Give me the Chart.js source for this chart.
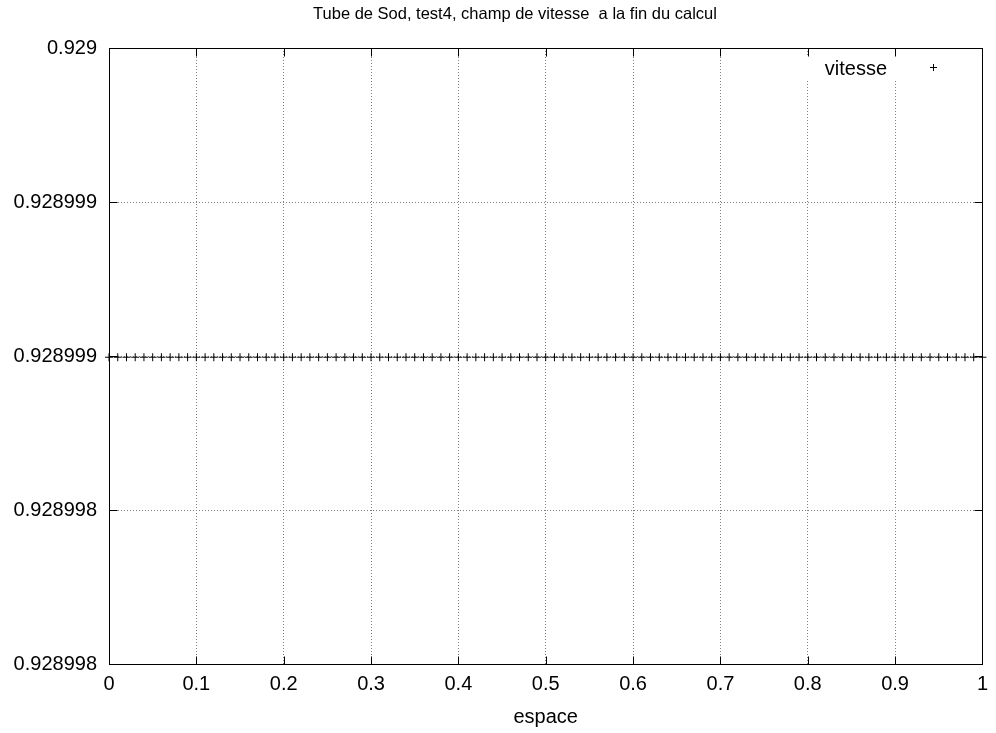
<!DOCTYPE html>
<html>
<head>
<meta charset="utf-8">
<script src="https://cdn.jsdelivr.net/npm/chart.js@4/dist/chart.umd.min.js"></script>
<style>
html,body{margin:0;padding:0;background:#fff;}
#wrap{width:996px;height:733px;position:relative;}
</style>
</head>
<body>
<div id="wrap"><canvas id="c" width="996" height="733"></canvas></div>
<script>
const titleText = 'Tube de Sod, test4, champ de vitesse  a la fin du calcul';
const xAxisTitle = 'espace';
const seriesName = 'vitesse';
const xValues = [0,0.01,0.02,0.03,0.04,0.05,0.06,0.07,0.08,0.09,0.1,0.11,0.12,0.13,0.14,0.15,0.16,0.17,0.18,0.19,0.2,0.21,0.22,0.23,0.24,0.25,0.26,0.27,0.28,0.29,0.3,0.31,0.32,0.33,0.34,0.35,0.36,0.37,0.38,0.39,0.4,0.41,0.42,0.43,0.44,0.45,0.46,0.47,0.48,0.49,0.5,0.51,0.52,0.53,0.54,0.55,0.56,0.57,0.58,0.59,0.6,0.61,0.62,0.63,0.64,0.65,0.66,0.67,0.68,0.69,0.7,0.71,0.72,0.73,0.74,0.75,0.76,0.77,0.78,0.79,0.8,0.81,0.82,0.83,0.84,0.85,0.86,0.87,0.88,0.89,0.9,0.91,0.92,0.93,0.94,0.95,0.96,0.97,0.98,0.99,1];
const vitesse = [0.928998996,0.928998996,0.928998996,0.928998996,0.928998996,0.928998996,0.928998996,0.928998996,0.928998996,0.928998996,
0.928998996,0.928998996,0.928998996,0.928998996,0.928998996,0.928998996,0.928998996,0.928998996,0.928998996,0.928998996,
0.928998996,0.928998996,0.928998996,0.928998996,0.928998996,0.928998996,0.928998996,0.928998996,0.928998996,0.928998996,
0.928998996,0.928998996,0.928998996,0.928998996,0.928998996,0.928998996,0.928998996,0.928998996,0.928998996,0.928998996,
0.928998996,0.928998996,0.928998996,0.928998996,0.928998996,0.928998996,0.928998996,0.928998996,0.928998996,0.928998996,
0.928998996,0.928998996,0.928998996,0.928998996,0.928998996,0.928998996,0.928998996,0.928998996,0.928998996,0.928998996,
0.928998996,0.928998996,0.928998996,0.928998996,0.928998996,0.928998996,0.928998996,0.928998996,0.928998996,0.928998996,
0.928998996,0.928998996,0.928998996,0.928998996,0.928998996,0.928998996,0.928998996,0.928998996,0.928998996,0.928998996,
0.928998996,0.928998996,0.928998996,0.928998996,0.928998996,0.928998996,0.928998996,0.928998996,0.928998996,0.928998996,
0.928998996,0.928998996,0.928998996,0.928998996,0.928998996,0.928998996,0.928998996,0.928998996,0.928998996,0.928998996,
0.928998996];
const xTickValues = [0,0.1,0.2,0.3,0.4,0.5,0.6,0.7,0.8,0.9,1];
const xTickLabels = ['0','0.1','0.2','0.3','0.4','0.5','0.6','0.7','0.8','0.9','1'];
const yTickValues = [0.928998,0.9289985,0.928999,0.9289995,0.929];
const yTickLabels = ['0.928998','0.928998','0.928999','0.928999','0.929'];

const FONT = "'Liberation Sans', Arial, Helvetica, sans-serif";

const framePlugin = {
  id: 'frame',
  afterDraw(chart) {
    const {ctx} = chart;
    ctx.save();
    ctx.fillStyle = '#000';
    ctx.font = '16.5px ' + FONT;
    ctx.textAlign = 'center';
    ctx.textBaseline = 'middle';
    ctx.fillText(titleText, 515, 14);
    ctx.restore();
  },
  afterDatasetsDraw(chart) {
    const {ctx, chartArea: a, scales: {x, y}} = chart;
    ctx.save();
    ctx.strokeStyle = '#000';
    ctx.lineWidth = 1;
    const L = Math.round(a.left) + 0.5, R = Math.round(a.right) + 0.5;
    const Tp = Math.round(a.top) + 0.5, B = Math.round(a.bottom) + 0.5;
    const T = 8;
    ctx.beginPath();
    xTickValues.forEach(v => {
      const px = Math.round(x.getPixelForValue(v)) + 0.5;
      ctx.moveTo(px, B); ctx.lineTo(px, B - T);
      ctx.moveTo(px, Tp); ctx.lineTo(px, Tp + T);
    });
    yTickValues.forEach(v => {
      const py = Math.round(y.getPixelForValue(v)) + 0.5;
      ctx.moveTo(L, py); ctx.lineTo(L + T, py);
      ctx.moveTo(R, py); ctx.lineTo(R - T, py);
    });
    ctx.stroke();
    ctx.strokeRect(L, Tp, R - L, B - Tp);
    // legend box
    ctx.fillStyle = '#fff';
    ctx.fillRect(804, 57, 164, 23);
    ctx.fillStyle = '#000';
    ctx.font = '20px ' + FONT;
    ctx.textAlign = 'right';
    ctx.textBaseline = 'alphabetic';
    ctx.fillText(seriesName, 887, 75);
    ctx.beginPath();
    ctx.moveTo(930, 67.5); ctx.lineTo(937, 67.5);
    ctx.moveTo(933.5, 64); ctx.lineTo(933.5, 71);
    ctx.stroke();
    ctx.restore();
  }
};

new Chart(document.getElementById('c'), {
  type: 'scatter',
  plugins: [framePlugin],
  data: {
    datasets: [{
      label: seriesName,
      data: xValues.map((xv, i) => ({x: xv, y: vitesse[i]})),
      pointStyle: 'cross',
      pointRadius: 4,
      pointBorderWidth: 1,
      borderColor: '#000',
      backgroundColor: '#000',
      showLine: false,
      clip: false
    }]
  },
  options: {
    responsive: false,
    animation: false,
    devicePixelRatio: 1,
    layout: {padding: {left: 0, right: 10, top: 48, bottom: 0}},
    plugins: {
      legend: {display: false},
      tooltip: {enabled: false},
      title: {display: false}
    },
    scales: {
      x: {
        type: 'linear',
        min: 0, max: 1,
        afterBuildTicks: s => { s.ticks = xTickValues.map(v => ({value: v})); },
        afterFit: s => { s.height = 69; },
        ticks: {
          color: '#000',
          font: {family: FONT, size: 20},
          padding: 8,
          maxRotation: 0,
          autoSkip: false,
          callback: (v, i) => xTickLabels[i]
        },
        grid: {
          color: '#7f7f7f',
          drawTicks: false,
          lineWidth: 1
        },
        border: {display: false, dash: [1, 2]},
        title: {
          display: true,
          text: xAxisTitle,
          color: '#000',
          font: {family: FONT, size: 20},
          padding: {top: 0, bottom: 4}
        }
      },
      y: {
        type: 'linear',
        min: 0.928998, max: 0.929,
        afterBuildTicks: s => { s.ticks = yTickValues.map(v => ({value: v})); },
        afterFit: s => { s.width = 109; },
        ticks: {
          color: '#000',
          font: {family: FONT, size: 20},
          padding: 12,
          autoSkip: false,
          callback: (v, i) => yTickLabels[i]
        },
        grid: {
          color: '#7f7f7f',
          drawTicks: false,
          lineWidth: 1
        },
        border: {display: false, dash: [1, 2]}
      }
    }
  }
});
</script>
</body>
</html>
